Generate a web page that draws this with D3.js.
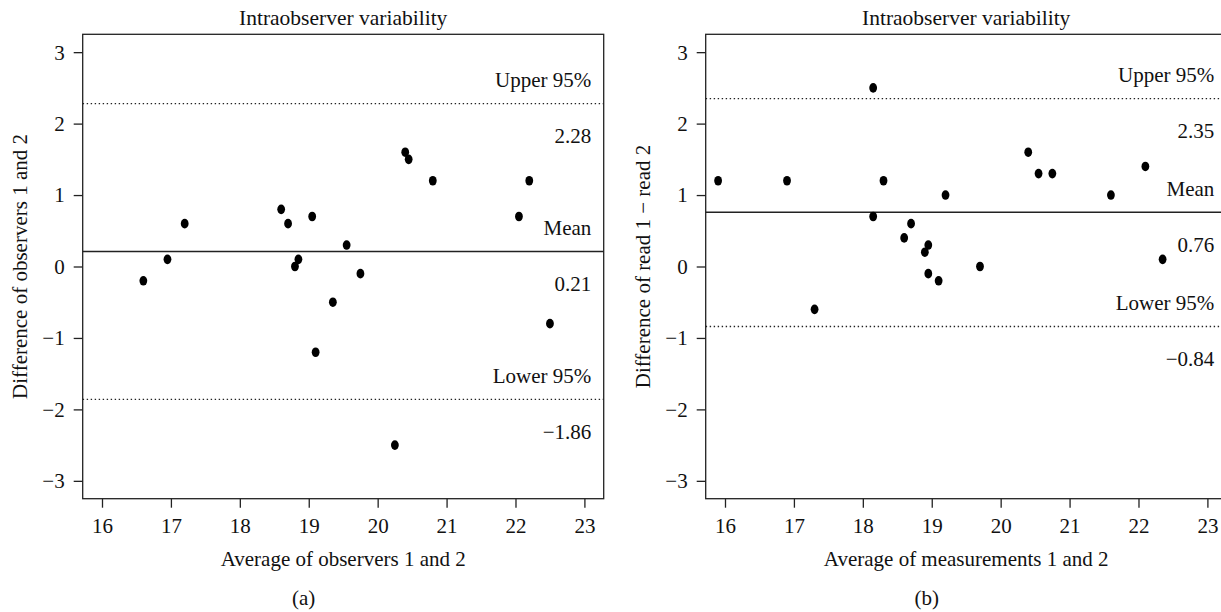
<!DOCTYPE html>
<html>
<head>
<meta charset="utf-8">
<script src="https://cdn.jsdelivr.net/npm/d3@7"></script>
<style>
  body { margin: 0; background: #fff; }
  svg { display: block; font-family: "Liberation Serif", "Times New Roman", serif; }
  .axis path.domain { display: none; }
  .axis line { stroke: #222; stroke-width: 1.3; }
  .axis text { fill: #111; font-size: 21px; font-family: "Liberation Serif", "Times New Roman", serif; }
</style>
</head>
<body>
<div id="chart"></div>
<script>
// tick labels
const xTicks = [16, 17, 18, 19, 20, 21, 22, 23];
const yTicks = [-3, -2, -1, 0, 1, 2, 3];

// panel (a): observers
const avgA = [16.6, 16.95, 17.2, 18.6, 18.7, 18.8, 18.85, 19.05, 19.1, 19.35, 19.55, 19.75, 20.25, 20.4, 20.45, 20.8, 22.05, 22.2, 22.5];
const diffA = [-0.2, 0.1, 0.6, 0.8, 0.6, 0.0, 0.1, 0.7, -1.2, -0.5, 0.3, -0.1, -2.5, 1.6, 1.5, 1.2, 0.7, 1.2, -0.8];
const limitsA = [2.28, 0.21, -1.86];

// panel (b): measurements
const avgB = [15.9, 16.9, 17.3, 18.15, 18.15, 18.3, 18.6, 18.7, 18.9, 18.95, 18.95, 19.1, 19.2, 19.7, 20.4, 20.55, 20.75, 21.6, 22.1, 22.35];
const diffB = [1.2, 1.2, -0.6, 2.5, 0.7, 1.2, 0.4, 0.6, 0.2, 0.3, -0.1, -0.2, 1.0, 0.0, 1.6, 1.3, 1.3, 1.0, 1.4, 0.1];
const limitsB = [2.35, 0.76, -0.84];

const limitNames = ['Upper 95%', 'Mean', 'Lower 95%'];
const limitDash = ['1.4,2.6', null, '1.4,2.6'];

const width = 1221, height = 612;
const plotTop = 34.3, plotBottom = 498.7, plotW = 521;
const fs = 21;
const serif = '"Liberation Serif", "Times New Roman", serif';

const svg = d3.select('#chart').append('svg')
  .attr('width', width)
  .attr('height', height);

const fmt = (v) => v.toFixed(2).replace('-', '\u2212');

function drawPanel(opts) {
  const left = opts.left;
  const x = d3.scaleLinear().domain([15.72, 23.28]).range([left, left + plotW]);
  const y = d3.scaleLinear().domain([-3.25, 3.25]).range([plotBottom, plotTop]);
  const cx = left + plotW / 2;
  const g = svg.append('g').attr('fill', '#111').attr('font-family', serif);

  // limit lines
  opts.limits.forEach((v, i) => {
    g.append('line')
      .attr('x1', x.range()[0]).attr('x2', x.range()[1])
      .attr('y1', y(v)).attr('y2', y(v))
      .attr('stroke', '#222')
      .attr('stroke-width', i === 1 ? 1.5 : 1.4)
      .attr('stroke-dasharray', limitDash[i]);
    g.append('text')
      .attr('x', x(23.1)).attr('y', y(v) - 24).attr('dy', '0.35em')
      .attr('text-anchor', 'end').attr('font-size', fs)
      .text(limitNames[i]);
    g.append('text')
      .attr('x', x(23.1)).attr('y', y(v) + 32).attr('dy', '0.35em')
      .attr('text-anchor', 'end').attr('font-size', fs)
      .text(fmt(v));
  });

  // points
  g.selectAll('ellipse.pt')
    .data(d3.zip(opts.avg, opts.diff))
    .enter().append('ellipse')
      .attr('class', 'pt')
      .attr('cx', (d) => x(d[0]))
      .attr('cy', (d) => y(d[1]))
      .attr('rx', 3.9).attr('ry', 4.8)
      .attr('fill', '#000');

  // axes
  const ax = g.append('g').attr('class', 'axis')
    .attr('transform', `translate(0,${plotBottom})`)
    .call(d3.axisBottom(x).tickValues(xTicks).tickSize(9).tickFormat(d3.format('d')));
  ax.attr('font-family', serif).attr('font-size', fs);
  ax.selectAll('text').attr('y', 27).attr('dy', '0.35em').attr('font-family', serif);

  const ay = g.append('g').attr('class', 'axis')
    .attr('transform', `translate(${left},0)`)
    .call(d3.axisLeft(y).tickValues(yTicks).tickSize(9)
      .tickFormat((d) => String(d).replace('-', '\u2212')));
  ay.attr('font-family', serif).attr('font-size', fs);
  ay.selectAll('text').attr('x', -18).attr('dy', '0.33em').attr('font-family', serif);

  // box
  g.append('rect')
    .attr('x', left).attr('y', plotTop)
    .attr('width', plotW).attr('height', plotBottom - plotTop)
    .attr('fill', 'none').attr('stroke', '#222').attr('stroke-width', 1.3);

  // titles
  g.append('text')
    .attr('x', cx).attr('y', 17.6).attr('dy', '0.33em')
    .attr('text-anchor', 'middle').attr('font-size', fs + 0.5)
    .text('Intraobserver variability');
  g.append('text')
    .attr('x', cx).attr('y', 558.6).attr('dy', '0.33em')
    .attr('text-anchor', 'middle').attr('font-size', fs)
    .text(opts.xLabel);
  g.append('text')
    .attr('transform', `translate(${left - 63},${(plotTop + plotBottom) / 2}) rotate(-90)`)
    .attr('dy', '0.33em')
    .attr('text-anchor', 'middle').attr('font-size', fs)
    .text(opts.yLabel);
  g.append('text')
    .attr('x', cx - 39.5).attr('y', 598.5).attr('dy', '0.33em')
    .attr('text-anchor', 'middle').attr('font-size', fs)
    .text(opts.caption);
}

drawPanel({
  left: 82.7, avg: avgA, diff: diffA, limits: limitsA,
  xLabel: 'Average of observers 1 and 2',
  yLabel: 'Difference of observers 1 and 2',
  caption: '(a)'
});

drawPanel({
  left: 705.7, avg: avgB, diff: diffB, limits: limitsB,
  xLabel: 'Average of measurements 1 and 2',
  yLabel: 'Difference of read 1 \u2212 read 2',
  caption: '(b)'
});
</script>
</body>
</html>
